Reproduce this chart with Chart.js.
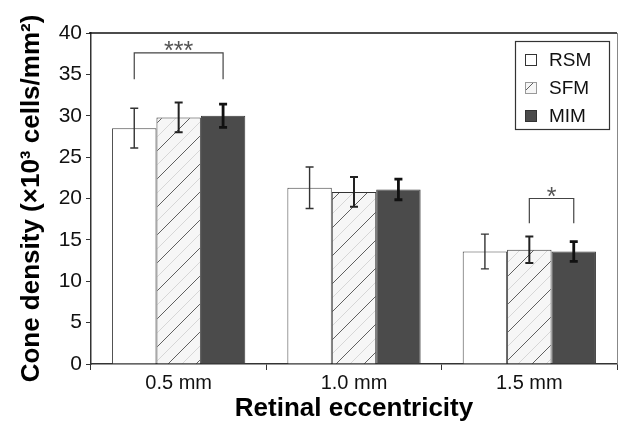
<!DOCTYPE html>
<html>
<head>
<meta charset="utf-8">
<script src="https://cdn.jsdelivr.net/npm/chart.js@4.4.1/dist/chart.umd.min.js"></script>
<style>
  body { margin: 0; background: #fff; }
  #wrap { width: 618px; height: 430px; }
</style>
</head>
<body>
<div id="wrap"><canvas id="cone-density-chart" width="618" height="430"></canvas></div>
<script>
// data
const categories = ['0.5 mm', '1.0 mm', '1.5 mm'];
const seriesNames = ['RSM', 'SFM', 'MIM'];
const rsmValues = [28.5, 21.3, 13.6];
const sfmValues = [29.8, 20.8, 13.8];
const mimValues = [30.0, 21.1, 13.6];
const rsmErrors = [2.4, 2.5, 2.1];
const sfmErrors = [1.8, 1.8, 1.6];
const mimErrors = [1.4, 1.25, 1.2];
const yMin = 0, yMax = 40, yStep = 5;

// significance brackets: category, from series, to series, bracket level, leg end, label
const sigCategory = [0, 2];
const sigFrom = [0, 1];
const sigTo = [2, 2];
const sigLevel = [37.6, 20.0];
const sigLegEnd = [34.4, 17.0];
const sigLabel = ['***', '*'];

const FONT = '"Liberation Sans", Arial, Helvetica, sans-serif';

// hatched fill for SFM
function makeHatch() {
    const c = document.createElement('canvas');
    const s = 28;
    c.width = s; c.height = s;
    const g = c.getContext('2d');
    g.fillStyle = '#f6f6f6';
    g.fillRect(0, 0, s, s);
    function diag(off, color, w) {
        g.strokeStyle = color;
        g.lineWidth = w;
        for (let k = -1; k <= 1; k++) {
            g.beginPath();
            g.moveTo(off + k * s - s, s + s);
            g.lineTo(off + k * s + s + s, -s);
            g.stroke();
        }
    }
    diag(0, '#606060', 1);
    diag(14, '#d6d6d6', 1);
    return g.createPattern(c, 'repeat');
}
const hatch = makeHatch();

const errorSets = [rsmErrors, sfmErrors, mimErrors];
const errorStyle = [
    { width: 1.4, color: '#333' },
    { width: 2, color: '#222' },
    { width: 2.8, color: '#111' }
];

// error bars, brackets, frame and legend box
const extrasPlugin = {
    id: 'extras',
    afterDatasetsDraw(chart) {
        const ctx = chart.ctx;
        const y = chart.scales.y;
        const area = chart.chartArea;
        ctx.save();

        // top and right frame
        ctx.strokeStyle = '#111';
        ctx.lineWidth = 1.5;
        ctx.beginPath();
        ctx.moveTo(area.left - 2, area.top);
        ctx.lineTo(area.right, area.top);
        ctx.stroke();
        ctx.strokeStyle = '#888';
        ctx.lineWidth = 1;
        ctx.beginPath();
        ctx.moveTo(area.right + 0.5, area.top);
        ctx.lineTo(area.right + 0.5, area.bottom);
        ctx.stroke();

        // error bars
        chart.data.datasets.forEach((ds, i) => {
            const meta = chart.getDatasetMeta(i);
            const st = errorStyle[i];
            meta.data.forEach((bar, j) => {
                const v = ds.data[j];
                const e = errorSets[i][j];
                const yt = y.getPixelForValue(v + e);
                const yb = y.getPixelForValue(v - e);
                ctx.strokeStyle = st.color;
                ctx.lineWidth = st.width;
                ctx.beginPath();
                ctx.moveTo(bar.x, yt);
                ctx.lineTo(bar.x, yb);
                ctx.moveTo(bar.x - 4, yt);
                ctx.lineTo(bar.x + 4, yt);
                ctx.moveTo(bar.x - 4, yb);
                ctx.lineTo(bar.x + 4, yb);
                ctx.stroke();
            });
        });

        // significance brackets
        sigCategory.forEach((cat, k) => {
            const x1 = chart.getDatasetMeta(sigFrom[k]).data[cat].x;
            const x2 = chart.getDatasetMeta(sigTo[k]).data[cat].x;
            const yl = y.getPixelForValue(sigLevel[k]);
            const ye = y.getPixelForValue(sigLegEnd[k]);
            ctx.strokeStyle = '#444';
            ctx.lineWidth = 1.2;
            ctx.beginPath();
            ctx.moveTo(x1, ye);
            ctx.lineTo(x1, yl);
            ctx.lineTo(x2, yl);
            ctx.lineTo(x2, ye);
            ctx.stroke();
            ctx.fillStyle = '#555';
            ctx.font = '25px ' + FONT;
            ctx.textAlign = 'center';
            ctx.textBaseline = 'alphabetic';
            ctx.fillText(sigLabel[k], (x1 + x2) / 2, yl + 6);
        });

        // legend
        const lx = 515, ly = 41, lw = 94, lh = 88;
        ctx.fillStyle = '#fff';
        ctx.fillRect(lx, ly, lw, lh);
        ctx.strokeStyle = '#333';
        ctx.lineWidth = 1.2;
        ctx.strokeRect(lx + 0.5, ly + 0.5, lw, lh);
        chart.data.datasets.forEach((ds, i) => {
            const cy = ly + 19 + i * 28;
            ctx.fillStyle = ds.backgroundColor;
            ctx.fillRect(525, cy - 6, 12, 12);
            ctx.strokeStyle = i === 1 ? '#999' : '#333';
            ctx.lineWidth = 1;
            ctx.strokeRect(525.5, cy - 5.5, 11, 11);
            ctx.fillStyle = '#111';
            ctx.font = '19px ' + FONT;
            ctx.textAlign = 'left';
            ctx.textBaseline = 'middle';
            ctx.fillText(ds.label, 549, cy + 1);
        });
        ctx.restore();
    }
};

new Chart(document.getElementById('cone-density-chart'), {
    type: 'bar',
    data: {
        labels: categories,
        datasets: [{
            label: seriesNames[0],
            data: rsmValues,
            backgroundColor: '#ffffff',
            borderColor: '#444',
            borderWidth: 1
        }, {
            label: seriesNames[1],
            data: sfmValues,
            backgroundColor: hatch,
            borderColor: '#333',
            borderWidth: 1
        }, {
            label: seriesNames[2],
            data: mimValues,
            backgroundColor: '#4b4b4b',
            borderColor: '#3a3a3a',
            borderWidth: 1
        }]
    },
    options: {
        responsive: false,
        animation: false,
        layout: {
            padding: { top: 33, right: 1, left: 0, bottom: 0 }
        },
        categoryPercentage: 0.76,
        barPercentage: 1,
        plugins: {
            legend: { display: false },
            tooltip: { enabled: false }
        },
        scales: {
            x: {
                grid: { drawOnChartArea: false, tickLength: 6, color: '#333', offset: true },
                border: { color: '#333', width: 1.5 },
                ticks: { font: { family: FONT, size: 20 }, color: '#111', padding: 1 },
                title: {
                    display: true,
                    text: 'Retinal eccentricity',
                    font: { family: FONT, size: 26, weight: 'bold' },
                    color: '#000',
                    padding: { top: 0, bottom: 6 }
                },
                afterFit(scale) { scale.height = 66; }
            },
            y: {
                min: yMin,
                max: yMax,
                ticks: { stepSize: yStep, font: { family: FONT, size: 21 }, color: '#111', padding: 4 },
                grid: { drawOnChartArea: false, tickLength: 5, color: '#333' },
                border: { color: '#333', width: 1.5 },
                title: {
                    display: true,
                    text: 'Cone density (×10³ cells/mm²)',
                    font: { family: FONT, size: 26, weight: 'bold' },
                    color: '#000',
                    padding: { top: 16, bottom: 0 }
                },
                afterFit(scale) { scale.width = 91; }
            }
        }
    },
    plugins: [extrasPlugin]
});
</script>
</body>
</html>
